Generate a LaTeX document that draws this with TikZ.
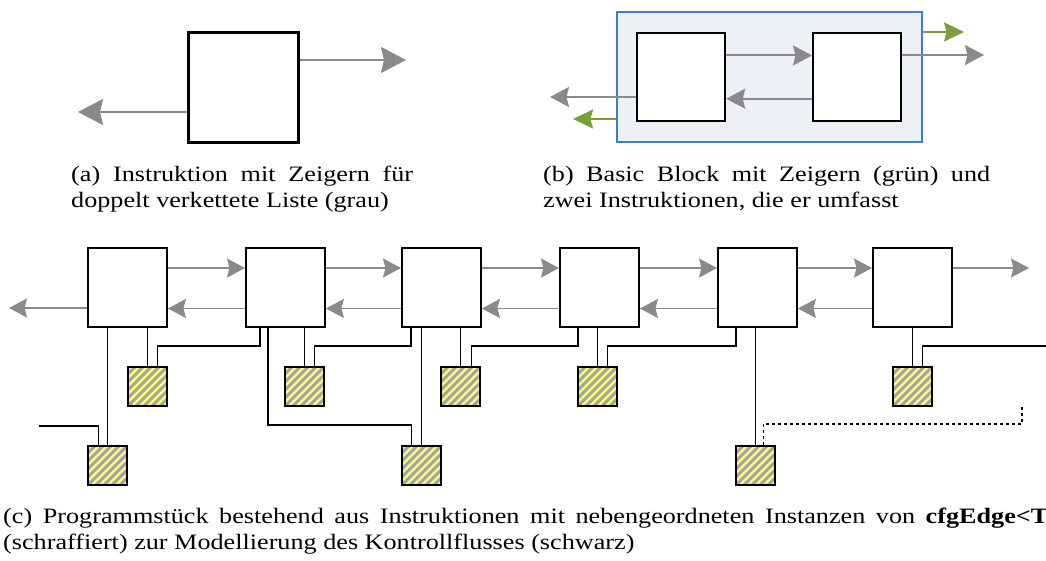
\documentclass[tikz,border=0pt]{standalone}
\usepackage{fontspec}
\setmainfont{Liberation Serif}[FakeStretch=1.19]
\usetikzlibrary{arrows.meta,calc}

\definecolor{ptrgray}{RGB}{138,138,138}
\definecolor{bbblue}{RGB}{58,124,214}
\definecolor{bbfill}{RGB}{237,240,245}
\definecolor{ptrgreen}{RGB}{122,160,60}
\definecolor{hatchyellow}{RGB}{255,255,112}
\definecolor{hatchgray}{RGB}{164,164,164}

\begin{document}
\begin{tikzpicture}[x=1pt,y=-1pt,
  instrA/.style={draw, line width=2.8pt, fill=white, minimum size=110pt, inner sep=0pt, anchor=north west},
  instrB/.style={draw, line width=2.2pt, fill=white, minimum size=88pt, inner sep=0pt, anchor=north west},
  instrC/.style={draw, line width=1.9pt, fill=white, minimum size=79pt, inner sep=0pt, anchor=north west},
  bblock/.style={draw=bbblue, line width=2pt, fill=bbfill, minimum width=305pt, minimum height=130pt, inner sep=0pt, anchor=north west},
  edgebox/.style={draw, line width=1.9pt, minimum size=39pt, inner sep=0pt, anchor=north west,
    path picture={
      \fill[hatchyellow] (path picture bounding box.south west) rectangle (path picture bounding box.north east);
      \foreach \k in {-56,-48,...,56}
        \draw[hatchgray, line width=3pt] ($(path picture bounding box.center)+(\k-30,30)$) -- ++(60,-60);
    }},
  ptrA/.style={ptrgray, line width=2.4pt, -{Stealth[length=25pt, width=26pt, inset=3pt]}},
  ptrB/.style={ptrgray, line width=2pt, -{Stealth[length=19pt, width=20pt, inset=2.5pt]}},
  ptrBg/.style={ptrgreen, line width=2pt, -{Stealth[length=20pt, width=19pt, inset=2.5pt]}},
  ptrC/.style={ptrgray, line width=1.9pt, -{Stealth[length=18pt, width=19pt, inset=2.5pt]}},
  cfg/.style={black, line width=1.7pt},
  cfgopen/.style={cfg, dash pattern=on 3pt off 3pt},
  captext/.style={inner sep=0pt, anchor=base west, font=\fontsize{22}{26}\selectfont}
]
\useasboundingbox (0,0) rectangle (1046,561);
\clip (0,0) rectangle (1046,561);

% ---------- (a) single instruction ----------
\node[instrA] (a1) at (187,31) {};
\coordinate (aR) at (406,60);
\coordinate (aL) at (78,112);
\draw[ptrA] (a1.east |- aR) -- (aR);
\draw[ptrA] (a1.west |- aL) -- (aL);

\node[captext] (capA1) at (71,182) {\makebox[342pt][s]{(a) Instruktion mit Zeigern für}};
\node[captext] (capA2) at (71,208) {doppelt verkettete Liste (grau)};

% ---------- (b) basic block ----------
\node[bblock] (bb) at (616,11) {};
\node[instrB] (b1) at (636,32) {};
\node[instrB] (b2) at (812,32) {};
\draw[ptrB] ($(b1.north east)!0.26!(b1.south east)$) -- ($(b2.north west)!0.26!(b2.south west)$);
\draw[ptrB] ($(b2.north west)!0.74!(b2.south west)$) -- ($(b1.north east)!0.74!(b1.south east)$);
\coordinate (bR) at (984,55);
\coordinate (bL) at (550,97);
\draw[ptrB] (b2.east |- bR) -- (bR);
\draw[ptrB] (b1.west |- bL) -- (bL);
\coordinate (gR) at (964,32);
\coordinate (gL) at (573,119);
\draw[ptrBg] (bb.east |- gR) -- (gR);
\draw[ptrBg] (bb.west |- gL) -- (gL);

\node[captext] (capB1) at (543,182) {\makebox[447pt][s]{(b) Basic Block mit Zeigern (grün) und}};
\node[captext] (capB2) at (543,208) {zwei Instruktionen, die er umfasst};

% ---------- (c) instruction chain with cfg edges ----------
\foreach \n/\x in {1/87, 2/245, 3/401, 4/559, 5/717, 6/872}
  \node[instrC] (i\n) at (\x,247) {};

\foreach \p/\q in {1/2, 2/3, 3/4, 4/5, 5/6} {
  \draw[ptrC] ($(i\p.north east)!0.26!(i\p.south east)$) -- ($(i\q.north west)!0.26!(i\q.south west)$);
  \draw[ptrC] ($(i\q.north west)!0.76!(i\q.south west)$) -- ($(i\p.north east)!0.76!(i\p.south east)$);
}
\coordinate (cL) at (9,308);
\coordinate (cR) at (1029,268);
\draw[ptrC] (i1.west |- cL) -- (cL);
\draw[ptrC] (i6.east |- cR) -- (cR);

% hatched cfgEdge instances
\node[edgebox] (e1) at (127,366) {};
\node[edgebox] (e2) at (284,366) {};
\node[edgebox] (e3) at (440,366) {};
\node[edgebox] (e4) at (577,366) {};
\node[edgebox] (e6) at (892,366) {};
\node[edgebox] (f1) at (87,445) {};
\node[edgebox] (f3) at (401,445) {};
\node[edgebox] (f5) at (735,445) {};

% instruction -> its edge instance
\draw[cfg] (i1.south -| e1.north) -- (e1.north);
\draw[cfg] (i2.south -| e2.north) -- (e2.north);
\draw[cfg] (i3.south -| e3.north) -- (e3.north);
\draw[cfg] (i4.south -| e4.north) -- (e4.north);
\draw[cfg] (i6.south -| e6.north) -- (e6.north);
\draw[cfg] (i1.south -| f1.north) -- (f1.north);
\draw[cfg] (i3.south -| f3.north) -- (f3.north);
\draw[cfg] (i5.south -| f5.north) -- (f5.north);

% edge instance -> target instruction
\draw[cfg] ($(e1.north)+(10,0)$) -- ++(0,-20) -| ($(i2.south west)+(15,0)$);
\draw[cfg] ($(e2.north)+(10,0)$) -- ++(0,-20) -| ($(i3.south west)+(10,0)$);
\draw[cfg] ($(e3.north)+(11,0)$) -- ++(0,-20) -| ($(i4.south west)+(19,0)$);
\draw[cfg] ($(e4.north)+(10,0)$) -- ++(0,-20) -| ($(i5.south west)+(19,0)$);
\coordinate (cfgR) at (1050,346);
\draw[cfg] ($(e6.north)+(10,0)$) |- (cfgR);
\coordinate (cfgL) at (39,426);
\draw[cfg] ($(f1.north)+(-9,0)$) |- (cfgL);
\draw[cfg] ($(i2.south west)+(23,0)$) -- ++(0,97) -| ($(f3.north)+(-10,0)$);
\coordinate (dotEnd) at (1022,405);
\draw[cfgopen] ($(f5.north)+(8,0)$) -- ++(0,-21) -| (dotEnd);

\node[captext] (capC1) at (3,523) {\makebox[1060pt][s]{(c) Programmstück bestehend aus Instruktionen mit nebengeordneten Instanzen von \textbf{cfgEdge<T>}}};
\node[captext] (capC2) at (3,549) {(schraffiert) zur Modellierung des Kontrollflusses (schwarz)};
\end{tikzpicture}
\end{document}
